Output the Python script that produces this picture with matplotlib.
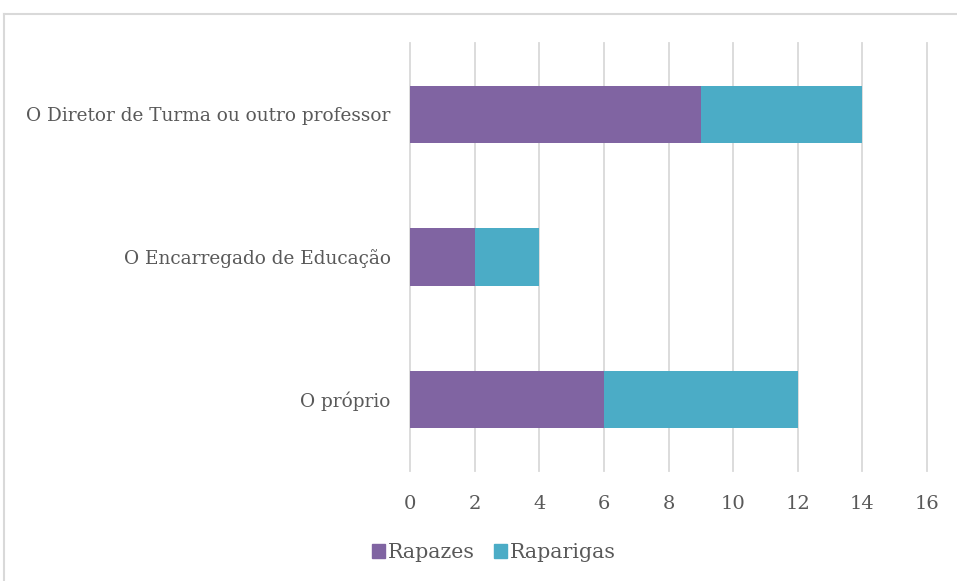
import matplotlib.pyplot as plt
from matplotlib.lines import Line2D
from matplotlib.patches import Patch

categorias = ['O Diretor de Turma ou outro professor',
              'O Encarregado de Educação',
              'O próprio']
rapazes = [9, 2, 6]
raparigas = [5, 2, 6]
ticks_x = [0, 2, 4, 6, 8, 10, 12, 14, 16]

roxo = '#8064A2'
azul = '#4BACC6'
cinza = '#595959'
grelha = '#D9D9D9'

plt.rcParams['font.family'] = ['DejaVu Serif']

W, H = 957, 581
fig = plt.figure(figsize=(W / 100, H / 100), dpi=100)
ax = fig.add_axes([410 / W, 1 - 471 / H, (927 - 410) / W, (471 - 43) / H])

pos = [2, 1, 0]
ax.barh(pos, rapazes, height=0.4, color=roxo, zorder=3)
ax.barh(pos, raparigas, left=rapazes, height=0.4, color=azul, zorder=3)

ax.set_xlim(0, 16)
ax.set_ylim(-0.5, 2.5)
ax.set_xticks(ticks_x)
ax.set_xticklabels([str(t) for t in ticks_x], fontsize=14, color=cinza)
ax.set_yticks(pos)
ax.set_yticklabels(categorias, fontsize=13.3, color=cinza)
ax.tick_params(axis='both', length=0)
ax.tick_params(axis='x', pad=17)
ax.tick_params(axis='y', pad=14)
ax.grid(axis='x', color=grelha, linewidth=1.3, zorder=0)
for gl in ax.get_xgridlines():
    gl.set_clip_on(False)
for s in ax.spines.values():
    s.set_visible(False)

# moldura do gráfico (cortada à direita e em baixo)
fig.add_artist(Line2D([4 / W, 1], [1 - 14 / H, 1 - 14 / H], color=grelha, lw=1.5))
fig.add_artist(Line2D([4 / W, 4 / W], [0, 1 - 14 / H], color=grelha, lw=1.5))

handles = [Patch(color=roxo), Patch(color=azul)]
fig.legend(handles, ['Rapazes', 'Raparigas'], loc='center',
           bbox_to_anchor=(494 / W, 1 - 553 / H), ncol=2, frameon=False,
           fontsize=14.8, labelcolor=cinza, handlelength=0.65, handleheight=0.65,
           handletextpad=0.15, columnspacing=0.9)

fig.savefig('out.png', dpi=100)
